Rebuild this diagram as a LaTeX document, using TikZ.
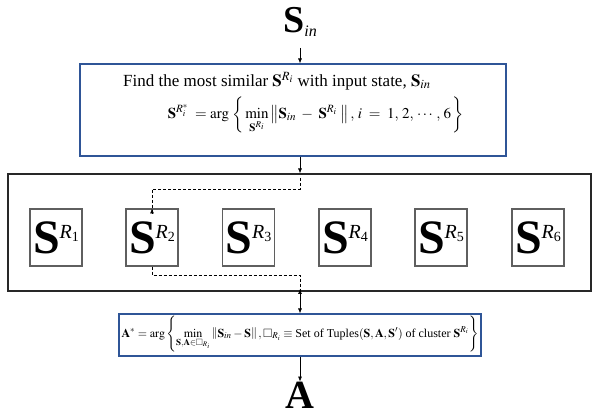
\documentclass[tikz,border=0pt]{standalone}
\usepackage{amsmath}
\usepackage{amssymb}
\usepackage{mathptmx}
\usepackage{fontspec}
\setmainfont{Liberation Serif}
\usetikzlibrary{arrows.meta}
\definecolor{boxblue}{RGB}{47,85,151}
\definecolor{midgray}{RGB}{40,40,40}
\definecolor{sgray}{RGB}{95,95,95}
\newcommand\bigSR[1]{{\fontsize{48}{48}\selectfont\textbf{S}}\raisebox{15pt}{\fontsize{20}{20}\selectfont\textit{R}\raisebox{-3pt}{\fontsize{14}{14}\selectfont #1}}}
\tikzset{
  bluebox/.style={draw=boxblue, line width=1.1pt, inner sep=0pt},
  bigbox/.style={draw=midgray, line width=1.1pt, inner sep=0pt},
  sbox/.style={draw=sgray, line width=1.1pt, minimum width=52pt, minimum height=57pt, inner sep=0pt},
  arr/.style={-{Latex[length=5pt,width=4pt]}, line width=0.7pt, black},
  dsh/.style={dashed, dash pattern=on 3pt off 2pt, line width=0.7pt, black},
}
\begin{document}
\begin{tikzpicture}[x=1pt,y=-1pt]
\useasboundingbox (0,0) rectangle (592,414);
\coordinate (ax) at (300,0);
\coordinate (a0) at (300,48);
% input
\node[inner sep=0pt] (sin) at (300,22) {{\fontsize{38}{38}\selectfont\textbf{S}}\raisebox{-4pt}{\fontsize{16}{16}\selectfont\textit{in}}};
% top box
\node[bluebox, minimum width=426pt, minimum height=92pt] (top) at (293,110) {};
\node[inner sep=0pt] (t1) at (277,81) {\fontsize{17}{17}\selectfont Find the most similar $\mathbf{S}^{R_i}$ with input state, $\mathbf{S}_{in}$};
\node[inner sep=0pt] (t2) at (316,115) {\fontsize{15}{15}\selectfont $\displaystyle \mathbf{S}^{R_i^*}\; = \arg\,\left\{\,\min_{\mathbf{S}^{R_i}} \left\|\mathbf{S}_{in} \;-\; \mathbf{S}^{R_i}\;\right\|,\, i \;=\; 1,\, 2,\, \cdots,\, 6\,\right\}$};
% middle box
\node[bigbox, minimum width=583pt, minimum height=117pt] (mid) at (299.5,232.5) {};
\node[sbox] (r1) at (56,237.5) {\bigSR{1}};
\node[sbox] (r2) at (152,237.5) {\bigSR{2}};
\node[sbox] (r3) at (248.5,237.5) {\bigSR{3}};
\node[sbox] (r4) at (345,237.5) {\bigSR{4}};
\node[sbox] (r5) at (441,237.5) {\bigSR{5}};
\node[sbox] (r6) at (538,237.5) {\bigSR{6}};
% bottom box
\node[bluebox, minimum width=362pt, minimum height=42pt] (bot) at (300,335) {};
\node[inner sep=0pt] (b1) at (300,334) {\fontsize{12}{12}\selectfont $\displaystyle \mathbf{A}^{*} = \arg\left\{\min_{\mathbf{S},\mathbf{A}\in\square_{R_i}} \left\|\mathbf{S}_{in} - \mathbf{S}\right\|, \square_{R_i} \equiv \text{Set of Tuples}(\mathbf{S},\mathbf{A},\mathbf{S}') \text{ of cluster } \mathbf{S}^{R_i}\right\}$};
% output
\node[inner sep=0pt] (out) at (300,395) {\fontsize{40}{40}\selectfont\textbf{A}};
% connectors
\coordinate (d1) at (300,178);
\coordinate (du) at (300,189);
\coordinate (dl) at (300,275);
\coordinate (d4) at (300,289);
\draw[arr] (a0) -- (sin.south |- top.north);
\draw[arr] (top.south -| ax) -- (mid.north -| ax);
\draw[dsh] (d1) -- (du) -| ([yshift=-4pt]r2.north);
\draw[arr] ([yshift=-5pt]r2.north) -- (r2.north);
\draw[dsh] (r2.south) |- (dl) -- ([yshift=-5pt]d4);
\draw[arr] ([yshift=-6pt]d4) -- (d4);
\draw[arr] (mid.south -| ax) -- (bot.north -| ax);
\draw[arr] (bot.south -| ax) -- (out.north);
\end{tikzpicture}
\end{document}
